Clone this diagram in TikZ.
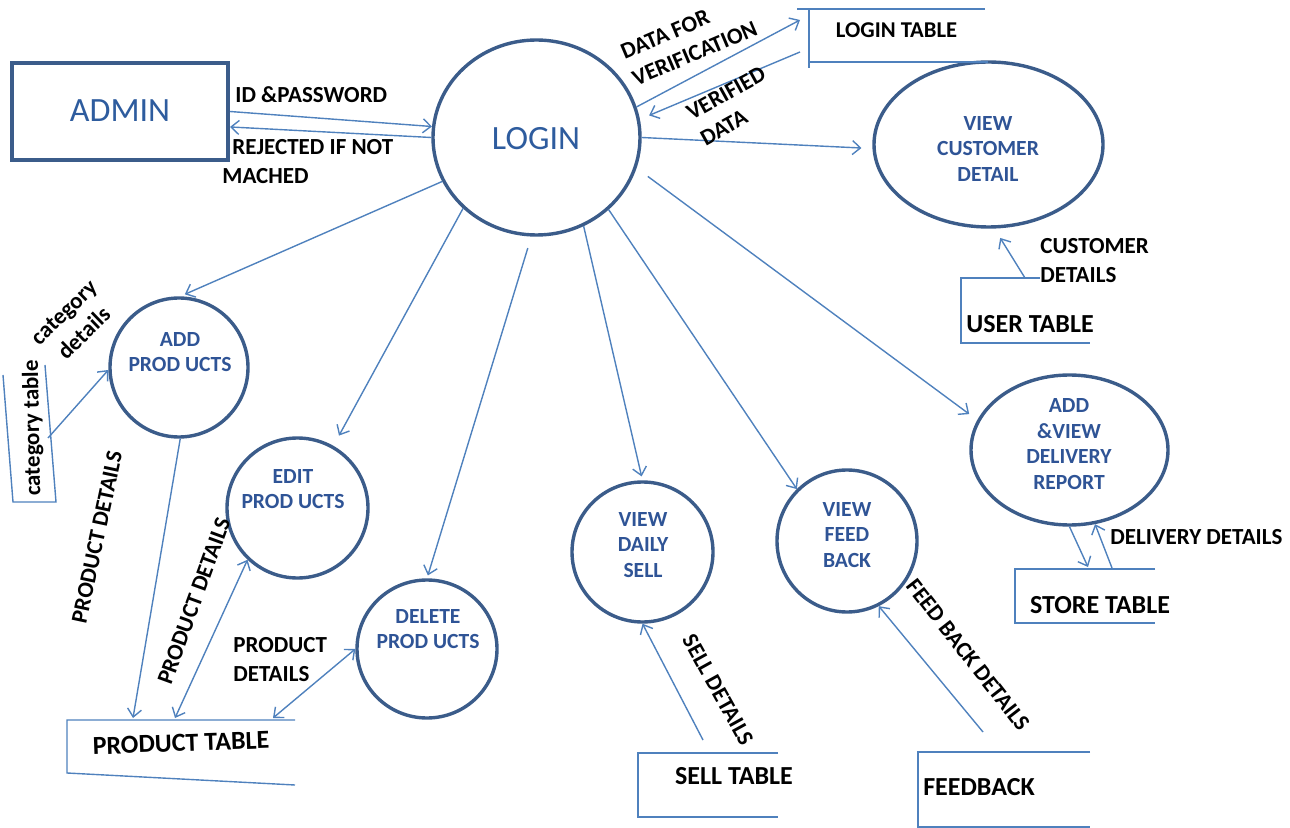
\documentclass[tikz,border=0pt]{standalone}
\usepackage{fontspec}
\setmainfont{Carlito}
\usetikzlibrary{arrows.meta,shapes.geometric}

\definecolor{procline}{HTML}{3B5C8A}
\definecolor{proctext}{HTML}{2F5496}
\definecolor{headtext}{HTML}{2E5C9E}
\definecolor{flowblue}{HTML}{4F81BD}

\tikzset{
  proc/.style={ellipse, draw=procline, line width=1.7pt, inner sep=0pt},
  proctxt/.style={text=proctext, font=\fontsize{10.8}{12.8}\selectfont\bfseries, align=center, inner sep=0pt},
  headtxt/.style={text=headtext, font=\fontsize{17}{20}\selectfont, inner sep=0pt},
  flow/.style={draw=flowblue, line width=0.7pt, ->},
  store/.style={draw=flowblue, line width=0.7pt},
  storetxt/.style={font=\fontsize{13}{15}\selectfont\bfseries, inner sep=0pt},
  lbl/.style={font=\fontsize{11.5}{14.5}\selectfont\bfseries, inner sep=0pt}
}

\begin{document}
\begin{tikzpicture}[x=0.5pt, y=-0.5pt, >={Straight Barb[length=4pt,width=7pt]}]
\useasboundingbox (0,0) rectangle (1290,828);

% The admin and the processes
\node[draw=procline, line width=2pt, minimum width=108pt, minimum height=48.5pt] (admin) at (120,111.5) {};
\node[headtxt] (admin-t) at (120,111) {ADMIN};

\node[proc, minimum width=103.5pt, minimum height=97.5pt] (login) at (536.5,137.5) {};
\node[headtxt] (login-t) at (536,138.5) {LOGIN};

\node[proc, minimum width=114.5pt, minimum height=82.5pt] (viewcust) at (988.5,144.5) {};
\node[proctxt] (viewcust-t) at (988,149) {VIEW\\CUSTOMER\\DETAIL};

\node[proc, minimum width=69pt, minimum height=69.5pt] (addprod) at (179,367.5) {};
\node[proctxt] (addprod-t) at (180,352) {ADD\\PROD UCTS};

\node[proc, minimum width=70.5pt, minimum height=70pt] (editprod) at (297.5,508) {};
\node[proctxt] (editprod-t) at (293,489) {EDIT\\PROD UCTS};

\node[proc, minimum width=70pt, minimum height=69pt] (delprod) at (427,649) {};
\node[proctxt] (delprod-t) at (428,629) {DELETE\\PROD UCTS};

\node[proc, minimum width=70.5pt, minimum height=70pt] (dailysell) at (642.5,552) {};
\node[proctxt] (dailysell-t) at (643,545) {VIEW\\DAILY\\SELL};

\node[proc, minimum width=70pt, minimum height=71pt] (feedproc) at (847,541) {};
\node[proctxt] (feedproc-t) at (847,535) {VIEW\\FEED\\BACK};

\node[proc, minimum width=98.5pt, minimum height=75pt] (delivery) at (1069.5,450) {};
\node[proctxt] (delivery-t) at (1069,444) {ADD\\\&VIEW\\DELIVERY\\REPORT};

% The stores
\draw[store] (797,9) -- (985,9) (809,9) -- (809,68) (809,62) -- (988,62);
\node[storetxt, font=\fontsize{11.3}{13}\selectfont\bfseries] (logintab) at (896.5,30) {LOGIN TABLE};

\draw[store] (1040,278) -- (961,278) -- (961,343) -- (1090,343);
\node[storetxt] (usertab) at (1030,324) {USER TABLE};

\draw[store] (3,375) -- (13,502) -- (56,502) -- (45,365);
\node[lbl, font=\fontsize{11.5}{14}\selectfont\bfseries, rotate=91] (cattab) at (33,428) {category table};

\draw[store] (295,720) -- (67,720) -- (67,773) -- (295,785);
\node[storetxt, rotate=2] (prodtab) at (181,743) {PRODUCT TABLE};

\draw[store] (778,753) -- (638,753) -- (638,817) -- (778,817);
\node[storetxt] (selltab) at (734,776) {SELL TABLE};

\draw[store] (1090,752) -- (918,752) -- (918,827) -- (1090,827);
\node[storetxt] (feedtab) at (979,787) {FEEDBACK};

\draw[store] (1155,569) -- (1015,569) -- (1015,623) -- (1155,623);
\node[storetxt] (storetab) at (1100,605) {STORE TABLE};

% Connector ends on the stores
\coordinate (lt-in) at (800,20);
\coordinate (lt-out) at (800,52);
\coordinate (ut-out) at (1025,278);
\coordinate (ct-out) at (48,438);
\coordinate (pt-a) at (133,718);
\coordinate (pt-e) at (175,718);
\coordinate (pt-d) at (273,718);
\coordinate (st-out) at (703,740);
\coordinate (fb-out) at (983,732);
\coordinate (dt-in) at (1088,567);
\coordinate (dt-out) at (1112,568);

% The flows
\draw[flow] (admin.east) -- (login.174);
\draw[flow] (login.180) -- (admin.-8);
\draw[flow] (login.17) -- (lt-in);
\draw[flow, shorten >=5pt] (lt-out) -- (login.10);
\draw[flow, shorten >=5.5pt] (login.0) -- (viewcust.182);
\draw[flow, shorten >=5.5pt] (ut-out) -- (viewcust.274);
\draw[flow, shorten >=2.5pt] (login.205) -- (addprod.89);
\draw[flow] (ct-out) -- (addprod.182);
\draw[flow] (addprod.271) -- (pt-a);
\draw[flow, <->] (editprod.226) -- (pt-e);
\draw[flow, shorten >=5.8pt] (login.224) -- (editprod.60);
\draw[flow, <->] (delprod.180) -- (pt-d);
\draw[flow, shorten <=6pt, shorten >=1.5pt] (login.267) -- (delprod.90);
\draw[flow, shorten >=2pt] (login.298) -- (dailysell.90);
\draw[flow] (st-out) -- (dailysell.270);
\draw[flow] (login.315) -- (feedproc.134);
\draw[flow] (fb-out) -- (feedproc.296);
\draw[flow, shorten <=7pt, shorten >=5pt] (login.-17) -- (delivery.162);
\draw[flow] (delivery.270) -- (dt-in);
\draw[flow] (dt-out) -- (delivery.289);

% Labels
\node[lbl, anchor=west] (idpw) at (235,95) {ID \&PASSWORD};
\node[lbl, anchor=north west, align=left] (rejected) at (222,139) {\hspace*{5pt}REJECTED IF NOT\\MACHED};
\node[lbl, rotate=23, align=left] (datafor) at (689,40) {DATA FOR\\VERIFICATION};
\node[lbl, rotate=29, align=left] (verified) at (733,106) {VERIFIED\\DATA};
\node[lbl, anchor=north west, align=left] (custdet) at (1040,238) {CUSTOMER\\DETAILS};
\node[lbl, rotate=44, align=center] (catdet) at (74,323) {category\\details};
\node[lbl, rotate=78] (proddet1) at (97,537) {PRODUCT DETAILS};
\node[lbl, rotate=70] (proddet2) at (194,601) {PRODUCT DETAILS};
\node[lbl, anchor=north west, align=left] (proddet3) at (233,637) {PRODUCT\\DETAILS};
\node[lbl, rotate=-61] (selldet) at (718,690) {SELL DETAILS};
\node[lbl, rotate=-52] (feeddet) at (968,655) {FEED BACK DETAILS};
\node[lbl, anchor=west] (deldet) at (1110,537) {DELIVERY DETAILS};

\end{tikzpicture}
\end{document}
